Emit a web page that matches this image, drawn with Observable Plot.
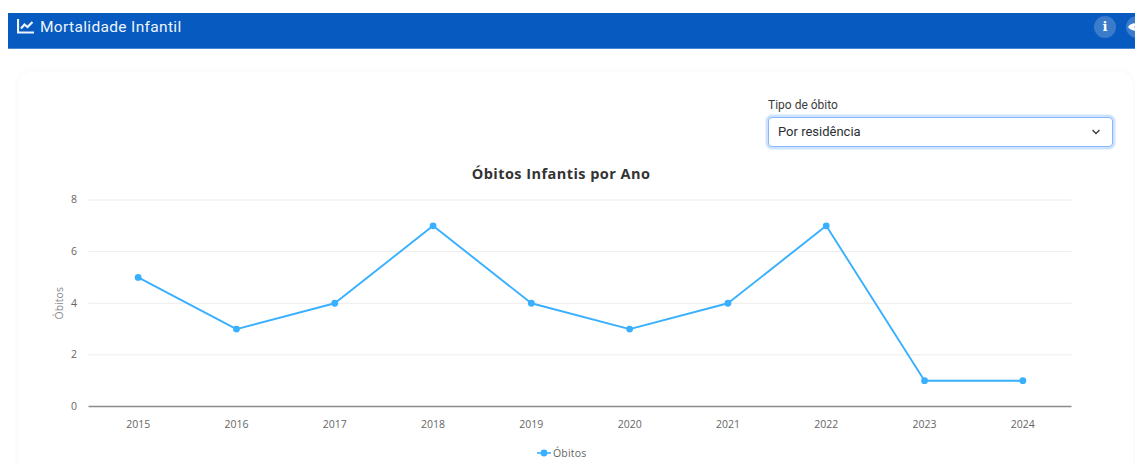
<!DOCTYPE html>
<html lang="pt-BR">
<head>
<meta charset="utf-8">
<title>Mortalidade Infantil</title>
<script src="https://cdn.jsdelivr.net/npm/d3@7"></script>
<script src="https://cdn.jsdelivr.net/npm/@observablehq/plot@0.6"></script>
<style>
  html, body { margin: 0; padding: 0; background: #fff; width: 1135px; height: 466px; overflow: hidden; font-family: Roboto, sans-serif; }
  #page { position: relative; width: 1135px; height: 466px; overflow: hidden; }
  .bar { position: absolute; left: 8px; top: 13px; width: 1127px; height: 36px; background: #075abf; border-bottom: 1px solid #4a86d4; box-sizing: border-box; color: #eef4fc; }
  .bar .name { position: absolute; left: 32px; top: 5px; font-size: 15.5px; letter-spacing: 0.34px; line-height: 19px; }
  .bar svg.glyph { position: absolute; left: 9px; top: 6px; }
  .round { position: absolute; top: 3px; width: 22px; height: 22px; border-radius: 50%; background: #3b7bcc; color: #fff; font: bold 13px/22px "DejaVu Serif", serif; text-align: center; }
  .card { position: absolute; left: 18px; top: 72px; width: 1115px; height: 440px; background: #fff; border-radius: 14px; box-shadow: 0 0 7px rgba(0,0,0,0.045); }
  .field-label { position: absolute; left: 768px; top: 98px; font-size: 12px; line-height: 14px; color: #3c3c3c; }
  .select { position: absolute; left: 768px; top: 117px; width: 345px; height: 30px; box-sizing: border-box; background: #fff; border: 1px solid #86b7fe; border-radius: 4px; box-shadow: 0 0 0 2.5px rgba(13,110,253,0.2); font-size: 13px; line-height: 28px; padding-left: 9px; color: #2b2f33; }
  .select svg { position: absolute; right: 10px; top: 10px; }
  .chart-title { position: absolute; left: 0; width: 1122px; top: 164px; text-align: center; font: 700 14.5px/19px "Open Sans", sans-serif; letter-spacing: 0.45px; color: #333; }
  #chart { position: absolute; left: 0; top: 189px; }
  #chart svg { display: block; }
  .legend { position: absolute; left: 537px; top: 446px; height: 14px; font: 10.5px/14px "Open Sans", sans-serif; color: #666; letter-spacing: 0.2px; }
  .legend svg { position: absolute; left: 0; top: 1px; }
  .legend span { position: absolute; left: 16px; top: 0; white-space: nowrap; }
</style>
</head>
<body>
<div id="page">
  <div class="bar">
    <svg class="glyph" width="17" height="15" viewBox="0 0 17 15" fill="none" stroke="#eef4fc" stroke-width="2.2">
      <path d="M1 0v13.5h16"/><path d="M4 9.5l3.5-4 3 2.5L15.5 3"/>
    </svg>
    <div class="name">Mortalidade Infantil</div>
    <div class="round" style="left:1086px">i</div>
    <div class="round" style="left:1118px">
      <svg width="18" height="22" viewBox="0 0 18 22"><path d="M0 11c3-5 13-5 17 0-4 5-14 5-17 0z" fill="#fff"/><circle cx="9" cy="11" r="2.4" fill="#3b7bcc"/></svg>
    </div>
  </div>
  <div class="card"></div>
  <div class="field-label">Tipo de óbito</div>
  <div class="select">Por residência
    <svg width="12" height="8" viewBox="0 0 12 8" fill="none" stroke="#343a40" stroke-width="1.3"><path d="M2.5 2l3.5 3.5L9.500 2"/></svg>
  </div>
  <div class="chart-title">Óbitos Infantis por Ano</div>
  <div id="chart"></div>
  <div class="legend">
    <svg width="14" height="12" viewBox="0 0 14 12"><path d="M0 6h14" stroke="#38b0ff" stroke-width="1.6"/><circle cx="7" cy="6" r="3.400" fill="#38b0ff"/></svg>
    <span>Óbitos</span>
  </div>
</div>
<script>
  // Óbitos infantis por ano de ocorrência, por residência
  const anos = [2015, 2016, 2017, 2018, 2019, 2020, 2021, 2022, 2023, 2024];
  const obitos = [5, 3, 4, 7, 4, 3, 4, 7, 1, 1];
  const ticksY = [0, 2, 4, 6, 8];

  const linhas = anos.map((ano, i) => ({ano, obitos: obitos[i]}));
  const azul = "#38b0ff";

  const grafico = Plot.plot({
    width: 1135,
    height: 250,
    marginTop: 10.5,
    marginBottom: 33,
    marginLeft: 88.5,
    marginRight: 63.5,
    style: {background: "transparent", fontFamily: "'Open Sans', sans-serif", fontSize: "10.5px", color: "#666"},
    x: {type: "point", domain: anos, padding: 0.5, round: false, label: null},
    y: {domain: [0, 8], label: null},
    marks: [
      Plot.gridY(ticksY.filter(t => t > 0), {stroke: "#ececec", strokeOpacity: 1, strokeWidth: 1}),
      Plot.ruleY([0], {stroke: "#8a8a8a", strokeWidth: 1.3}),
      Plot.axisX({tickSize: 0, tickPadding: 14, label: null, tickFormat: d => String(d), fill: "#666", letterSpacing: "0.3px"}),
      Plot.axisY({ticks: ticksY, tickSize: 0, tickPadding: 12, label: null, fill: "#666"}),
      Plot.text(["Óbitos"], {
        frameAnchor: "left", textAnchor: "middle", dx: -29, rotate: -90, fill: "#8a8a8a", fontSize: 10.5, letterSpacing: "0.3px"
      }),
      Plot.line(linhas, {x: "ano", y: "obitos", stroke: azul, strokeWidth: 1.9}),
      Plot.dot(linhas, {x: "ano", y: "obitos", r: 3.4, fill: azul})
    ]
  });
  document.getElementById("chart").appendChild(grafico);
</script>
</body>
</html>
